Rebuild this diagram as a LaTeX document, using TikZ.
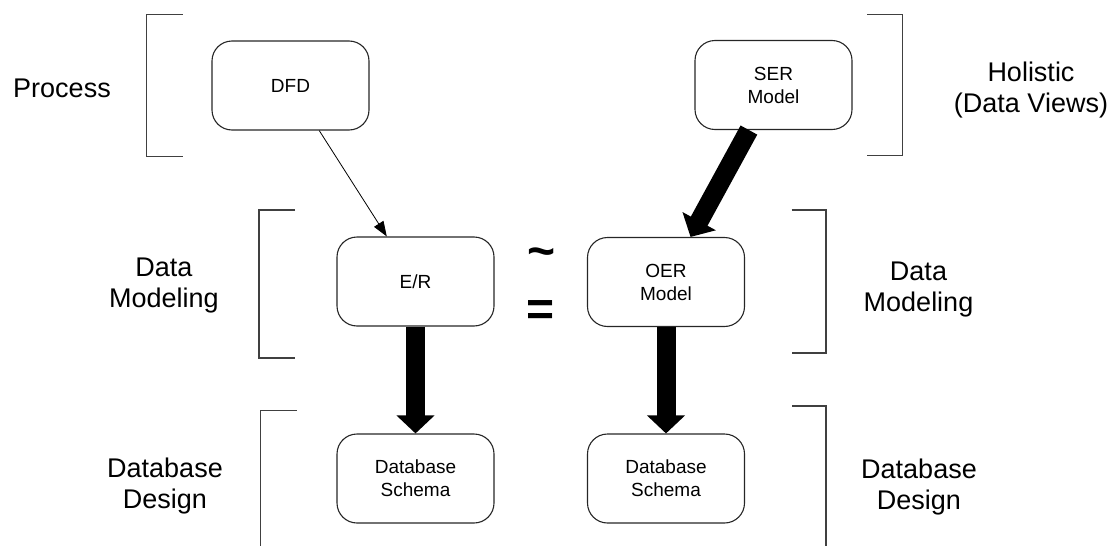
\documentclass[tikz,border=0pt]{standalone}
\usepackage{fontspec}
\setmainfont{Liberation Sans}
\usetikzlibrary{arrows.meta}

\begin{document}
\begin{tikzpicture}[x=1pt,y=-1pt,
  stage/.style={draw=black!85, line width=1.1pt, rounded corners=20pt,
    minimum width=157pt, minimum height=89pt, inner sep=0pt,
    align=center, font=\fontsize{19}{23}\selectfont},
  phase/.style={align=center, inner sep=0pt, anchor=base,
    font=\fontsize{27}{31}\selectfont},
  brk/.style={draw=black!75, line width=1.1pt},
  flowarrow/.style={draw=black, line width=0.8pt,
    -{Triangle[length=15pt,width=11pt]}},
  bigarrow/.style={draw=black, line width=19pt,
    -{Triangle[length=18pt,width=37pt]}},
  relation/.style={inner sep=0pt, anchor=base,
    font=\fontsize{48}{48}\selectfont\bfseries},
]
\useasboundingbox (0,0) rectangle (1117,546);

% model boxes
\node[stage] (dfd) at (290.5,85.5) {DFD};
\node[stage] (ser) at (773.5,85) {SER\\Model};
\node[stage] (er)  at (415.5,281.5) {E/R};
\node[stage] (oer) at (666,282) {OER\\Model};
\node[stage] (dbl) at (415.5,478.5) {Database\\Schema};
\node[stage] (dbr) at (666,478.5) {Database\\Schema};

% transformations
\draw[flowarrow] (dfd) -- (er);
\draw[bigarrow] (ser) -- (oer);
\draw[bigarrow] (er) -- (dbl);
\draw[bigarrow] (oer) -- (dbr);

% level brackets, left side
\draw[brk] (182.7,14.3) -- (146.7,14.3) -- (146.7,156.3) -- (182.7,156.3);
\draw[brk] (295,210) -- (259,210) -- (259,358) -- (295,358);
\draw[brk] (296.7,410.7) -- (260.7,410.7) -- (260.7,546);
% level brackets, right side
\draw[brk] (867.3,14.3) -- (902.7,14.3) -- (902.7,155.7) -- (867.3,155.7);
\draw[brk] (791.7,210) -- (826,210) -- (826,353) -- (791.7,353);
\draw[brk] (792,406) -- (826,406) -- (826,546);

% level names (base anchor sits on the last line)
\node[phase] (process)  at (62,97.3)     {Process};
\node[phase] (holistic) at (1031,112.7)  {Holistic\\(Data Views)};
\node[phase] (dmleft)   at (164,307)     {Data\\Modeling};
\node[phase] (dmright)  at (918.5,311.5) {Data\\Modeling};
\node[phase] (ddleft)   at (165,508)     {Database\\Design};
\node[phase] (ddright)  at (919,509.5)   {Database\\Design};

% relation between E/R and OER
\node[relation] (approx) at (541.5,267)  {\textasciitilde};
\node[relation] (equal)  at (541,325.5)  {=};
\end{tikzpicture}
\end{document}
